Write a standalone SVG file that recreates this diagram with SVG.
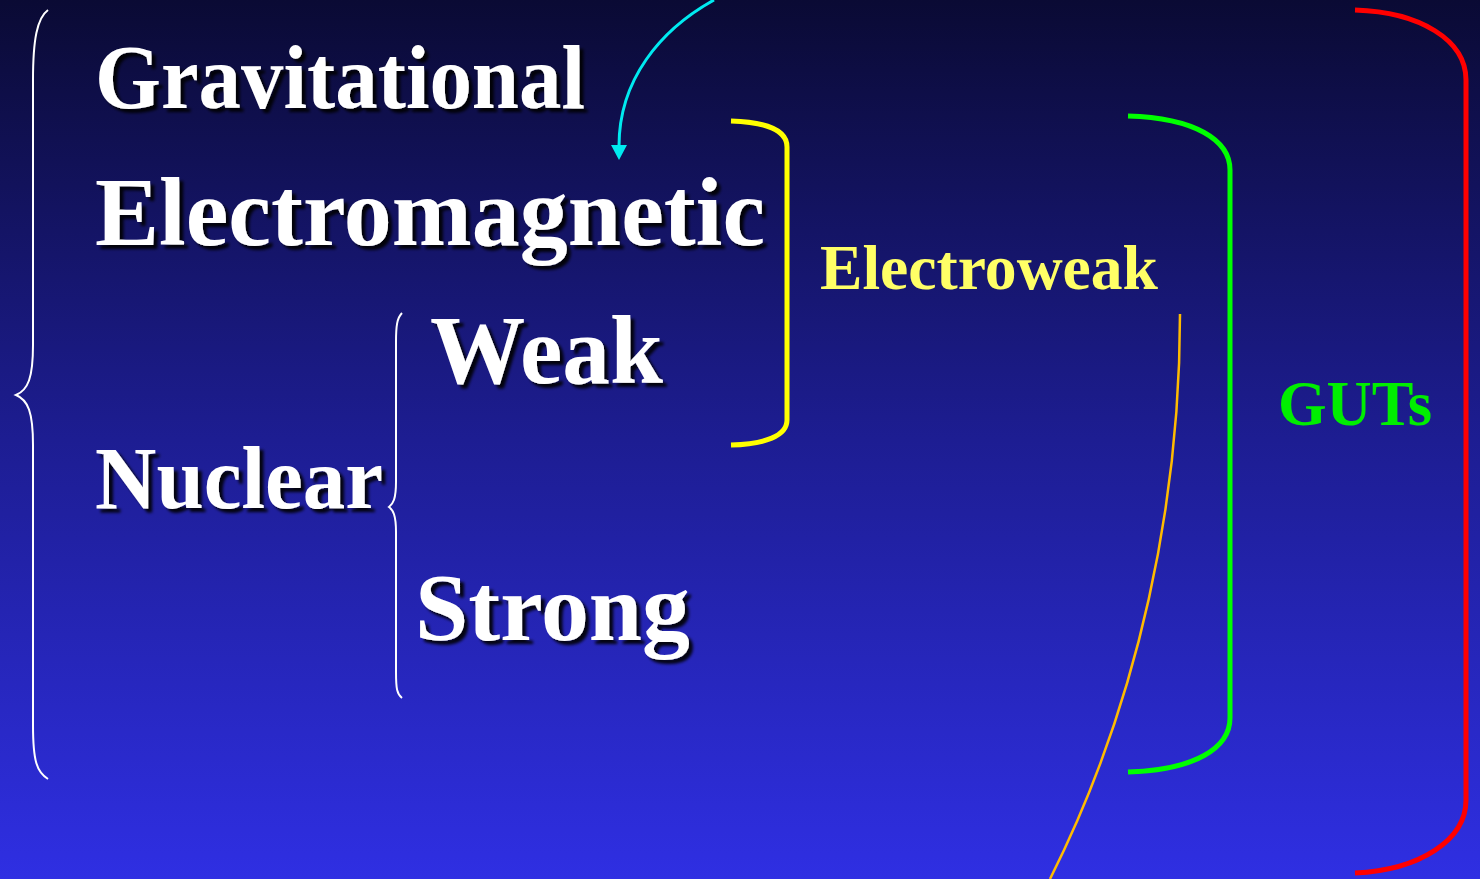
<svg xmlns="http://www.w3.org/2000/svg" width="1480" height="879" viewBox="0 0 1480 879">
<defs>
<linearGradient id="bg" x1="0" y1="0" x2="0" y2="1">
<stop offset="0" stop-color="#0a0a34"/>
<stop offset="0.5" stop-color="#1d1d92"/>
<stop offset="1" stop-color="#2f2fe3"/>
</linearGradient>
<filter id="shadow" x="-5%" y="-20%" width="115%" height="150%">
<feDropShadow dx="4" dy="4" stdDeviation="1.5" flood-color="#000" flood-opacity="0.9"/>
</filter>
</defs>
<style>
.big{font-family:"Liberation Serif","Times New Roman",serif;font-weight:bold;fill:#fff;filter:url(#shadow)}
.lbl{font-family:"Liberation Serif","Times New Roman",serif;font-weight:bold}
.brace{fill:none;stroke:#fff;stroke-width:2}
.br{fill:none;stroke-width:5}
</style>
<rect x="0" y="0" width="1480" height="879" fill="url(#bg)"/>
<g id="connectors">
<path class="brace" d="M48,10 C37,18 33,40 33,80 L33,345 C33,378 28,390 16,395 C28,400 33,412 33,445 L33,725 C33,762 37,772 48,779"/>
<path class="brace" d="M402,313 C397,318 396,326 396,342 L396,482 C396,499 393,504 389,507 C393,510 396,515 396,532 L396,672 C396,689 397,694 402,698"/>
<path class="br" stroke="#ffff00" d="M731,121 C765,122 787,130 787,147 L787,420 C787,436 765,444 731,445"/>
<path class="br" stroke="#00ff00" d="M1128,116 C1195,118 1230,140 1230,170 L1230,718 C1230,748 1195,770 1128,772"/>
<path class="br" stroke="#ff0000" d="M1355,10 C1420,12 1466,40 1466,80 L1466,800 C1466,840 1420,870 1355,873"/>
<path fill="none" stroke="#ffbb00" stroke-width="2.5" d="M1180,314 C1180,500 1140,700 1050,879"/>
<path fill="none" stroke="#00eaf0" stroke-width="3" d="M714,0 C660,30 619,80 619,146"/>
<polygon fill="#00eaf0" points="611,145 627,145 619,160"/>
</g>
<g id="gravitational"><text class="big" x="95" y="108" font-size="90" textLength="490" lengthAdjust="spacingAndGlyphs">Gravitational</text></g>
<g id="electromagnetic"><text class="big" x="95" y="245" font-size="97" textLength="670" lengthAdjust="spacingAndGlyphs">Electromagnetic</text></g>
<g id="weak"><text class="big" x="430" y="383" font-size="97" textLength="233" lengthAdjust="spacingAndGlyphs">Weak</text></g>
<g id="nuclear"><text class="big" x="95" y="508" font-size="89" textLength="288" lengthAdjust="spacingAndGlyphs">Nuclear</text></g>
<g id="strong"><text class="big" x="415" y="640" font-size="96" textLength="275" lengthAdjust="spacingAndGlyphs">Strong</text></g>
<g id="electroweak"><text class="lbl" x="820" y="289" font-size="64" fill="#ffff66" textLength="338" lengthAdjust="spacingAndGlyphs">Electroweak</text></g>
<g id="guts"><text class="lbl" x="1278" y="425" font-size="63" fill="#00ee00" textLength="154" lengthAdjust="spacingAndGlyphs">GUTs</text></g>
</svg>
